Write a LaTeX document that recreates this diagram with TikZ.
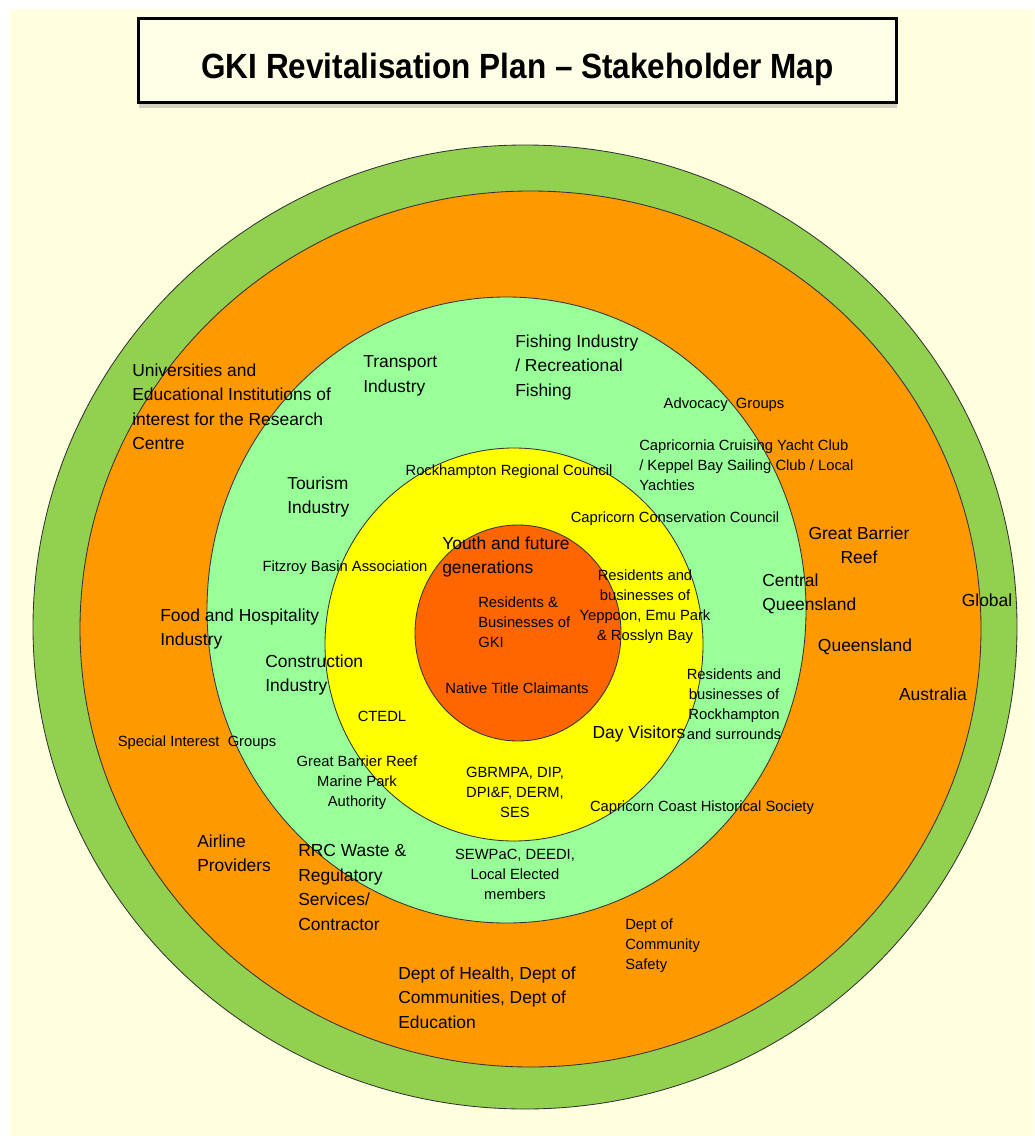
\documentclass[tikz,border=0pt]{standalone}
\usepackage{fontspec}
\setmainfont{Liberation Sans}
\newfontfamily\titlefont[FakeStretch=0.9]{Liberation Sans}
\usepackage{tikz}
\usetikzlibrary{shadows}
\definecolor{pagecol}{HTML}{FFFFE0}
\definecolor{boxcol}{HTML}{FFFFE8}
\definecolor{globalcol}{HTML}{92D050}
\definecolor{natcol}{HTML}{FF9900}
\definecolor{regcol}{HTML}{99FF99}
\definecolor{localcol}{HTML}{FFFF00}
\definecolor{corecol}{HTML}{FF6600}
\newcommand{\bigstake}{\fontsize{12.4}{17.4}\selectfont}
\newcommand{\smallstake}{\fontsize{10.5}{14.2}\selectfont}

\begin{document}
\begin{tikzpicture}[x=0.025cm,y=-0.025cm,
  ring/.style={draw=black!80,line width=0.6pt},
  stake/.style={font=\bigstake,inner sep=0pt,align=left},
  stakesm/.style={font=\smallstake,inner sep=0pt,align=left},
]
\useasboundingbox (0,0) rectangle (1034,1136);
\fill[white] (0,0) rectangle (1034,1136);
\fill[pagecol] (10,9) rectangle (1034,1136);

% heading
\node[draw,line width=2pt,fill=boxcol,minimum width=18.95cm,minimum height=2.1cm,
  drop shadow={shadow xshift=0.5pt,shadow yshift=-4pt,opacity=0.35}]
  (titlebox) at (517.5,60.5) {};
\node[font=\titlefont\bfseries\fontsize{24.9}{30}\selectfont] (title) at (517.5,69)
  {GKI Revitalisation Plan – Stakeholder Map};

% rings, outside in
\draw[ring,fill=globalcol] (525,627) ellipse [x radius=492,y radius=482];
\draw[ring,fill=natcol] (530.5,629) ellipse [x radius=450.5,y radius=438];
\draw[ring,fill=regcol] (506.5,610) ellipse [x radius=299.5,y radius=313];
\draw[ring,fill=localcol] (514,644.5) ellipse [x radius=189,y radius=196.5];
\draw[ring,fill=corecol] (518,633) ellipse [x radius=103,y radius=108];

\node[stake] (global) at (987,600) {Global};

\node[stake,anchor=north west] (univ) at (132,363.5)
  {Universities and\\Educational Institutions of\\interest for the Research\\Centre};
\node[stake,anchor=north,align=center] (gbr) at (859,526.5) {Great Barrier\\Reef};
\node[stake,anchor=north west] (food) at (160,608.5) {Food and Hospitality\\Industry};
\node[stake] (qld) at (865,647) {Queensland};
\node[stake] (aus) at (933,694) {Australia};
\node[stakesm] (special) at (197,743) {Special Interest\ \ Groups};
\node[stake,anchor=north west] (airline) at (197,834.5) {Airline\\Providers};
\node[stake,anchor=north west] (rrc) at (298,844.5)
  {RRC Waste \&\\Regulatory\\Services/\\Contractor};
\node[stake,anchor=north west] (health) at (398,966.5)
  {Dept of Health, Dept of\\Communities, Dept of\\Education};
\node[stakesm,anchor=north west] (safety) at (625,918.5) {Dept of\\Community\\Safety};

\node[stake,anchor=north west] (transport) at (363,355.5) {Transport\\Industry};
\node[stake,anchor=north west] (fishing) at (515,334.5)
  {Fishing Industry\\/ Recreational\\Fishing};
\node[stakesm] (advocacy) at (724,405) {Advocacy\ \ Groups};
\node[stakesm,anchor=north west] (yacht) at (639,439.5)
  {Capricornia Cruising Yacht Club\\/ Keppel Bay Sailing Club / Local\\Yachties};
\node[stake,anchor=north west] (tourism) at (287,476.5) {Tourism\\Industry};
\node[stakesm] (fitzroy) at (345,568) {Fitzroy Basin Association};
\node[stake,anchor=north west] (central) at (762,573.5) {Central\\Queensland};
\node[stake,anchor=north west] (construct) at (265,654.5) {Construction\\Industry};
\node[stakesm,anchor=north,align=center] (rockres) at (734,668.5)
  {Residents and\\businesses of\\Rockhampton\\and surrounds};
\node[stakesm,anchor=north,align=center] (gbrmpa) at (357,755.5)
  {Great Barrier Reef\\Marine Park\\Authority};
\node[stakesm] (history) at (702,808) {Capricorn Coast Historical Society};
\node[stakesm,anchor=north,align=center] (sewpac) at (515,848.5)
  {SEWPaC, DEEDI,\\Local Elected\\members};

\node[stakesm] (rrcouncil) at (509,472) {Rockhampton Regional Council};
\node[stakesm] (conserv) at (675,519) {Capricorn Conservation Council};
\node[stake,anchor=north west] (youth) at (442,536.5) {Youth and future\\generations};
\node[stakesm,anchor=north,align=center] (yeppoon) at (645,569.5)
  {Residents and\\businesses of\\Yeppoon, Emu Park\\\& Rosslyn Bay};
\node[stakesm] (ctedl) at (382,716) {CTEDL};
\node[stake] (dayvis) at (639,734) {Day Visitors};
\node[stakesm,anchor=north,align=center] (agencies) at (515,766.5)
  {GBRMPA, DIP,\\DPI\&F, DERM,\\SES};

\node[stakesm,anchor=north west] (gki) at (478,596.5) {Residents \&\\Businesses of\\GKI};
\node[stakesm] (native) at (517,688) {Native Title Claimants};
\end{tikzpicture}
\end{document}
